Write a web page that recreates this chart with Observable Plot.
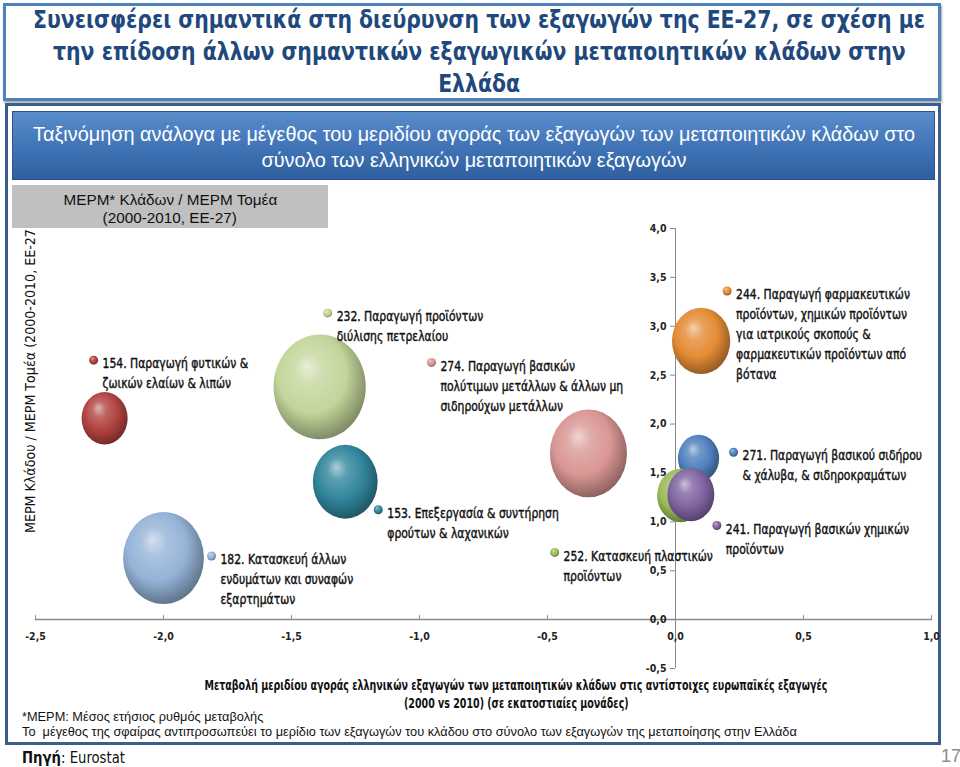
<!DOCTYPE html>
<html>
<head>
<meta charset="utf-8">
<script src="https://cdn.jsdelivr.net/npm/d3@7"></script>
<script src="https://cdn.jsdelivr.net/npm/@observablehq/plot@0.6"></script>
<style>
  html, body { margin: 0; padding: 0; background: #fff; }
  #page { position: relative; width: 960px; height: 767px; overflow: hidden; background: #fff;
          font-family: "DejaVu Sans Condensed", "Liberation Sans", sans-serif; }
  .abs { position: absolute; }
  .ln { display: inline-block; white-space: nowrap; }
  .c { width: 2000px; text-align: center; }
  .c .ln { transform-origin: 50% 50%; }
  .l .ln { transform-origin: 0 50%; }
  #titlebox { left: 3px; top: 3px; width: 932px; height: 92px; border: 3px solid #4f81bd;
              box-shadow: 1px 2px 2px rgba(0,0,0,0.35); }
  #title { left: -521px; top: 4px; color: #1f497d; font-weight: bold; font-size: 25px; line-height: 32px; }
  #frame { left: 5px; top: 103px; width: 930px; height: 636px; border: 3px solid #3a5f8e; }
  #banner { left: 12px; top: 111px; width: 921px; height: 67px;
            background: linear-gradient(#5a8ccb, #3f73b5 55%, #2f609f); border: 1px solid #2a5288; }
  #subtitle { left: -526px; top: 121px; color: #fff;
              font-family: "Liberation Sans", Arial, sans-serif; font-size: 20px; line-height: 26px; }
  #graybox { left: 12px; top: 185px; width: 316px; height: 43px; background: #c0c0c0; }
  #graytext { left: -830px; top: 191px;
              font-family: "Liberation Sans", Arial, sans-serif; font-size: 14.5px; line-height: 18px; color: #111; }
  #ylabel { left: 21px; top: 533px; transform-origin: 0 0; white-space: nowrap; font-size: 14.5px;
            line-height: 18px; color: #111; }
  #xtitle { left: -484px; top: 676px; font-weight: bold; font-size: 14.5px; line-height: 18px; color: #111; }
  #notes { left: 22px; top: 710px; font-family: "Liberation Sans", Arial, sans-serif; font-size: 12.5px;
           line-height: 15px; color: #111; }
  #source { left: 22px; top: 749px; font-size: 15px; line-height: 18px; color: #111; }
  #pagenum { left: 941px; top: 746px; font-family: "Liberation Sans", Arial, sans-serif; font-size: 18px; color: #8c8c8c; }
  #chart { left: 0; top: 180px; }
</style>
</head>
<body>
<div id="page">
  <div id="titlebox" class="abs"></div>
  <div id="title" class="abs c"><span class="ln">Συνεισφέρει σημαντικά στη διεύρυνση των εξαγωγών της ΕΕ-27, σε σχέση με</span><br><span class="ln">την επίδοση άλλων σημαντικών εξαγωγικών μεταποιητικών κλάδων στην</span><br><span class="ln">Ελλάδα</span></div>
  <div id="frame" class="abs"></div>
  <div id="banner" class="abs"></div>
  <div id="subtitle" class="abs c"><span class="ln">Ταξινόμηση ανάλογα με μέγεθος του μεριδίου αγοράς των εξαγωγών των μεταποιητικών κλάδων στο</span><br><span class="ln">σύνολο των ελληνικών μεταποιητικών εξαγωγών</span></div>
  <div id="ylabel" class="abs"><span id="ylabpart">ΜΕΡΜ Κλάδου / ΜΕΡΜ Τομέα (2000-2010, ΕΕ-27</span>)</div>
  <div id="chart" class="abs"></div>
  <div id="graybox" class="abs"></div>
  <div id="graytext" class="abs c"><span class="ln">ΜΕΡΜ* Κλάδων / ΜΕΡΜ Τομέα</span><br><span class="ln">(2000-2010, ΕΕ-27)</span></div>
  <div id="xtitle" class="abs c"><span class="ln">Μεταβολή μεριδίου αγοράς ελληνικών εξαγωγών των μεταποιητικών κλάδων στις αντίστοιχες ευρωπαϊκές εξαγωγές</span><br><span class="ln">(2000 vs 2010) (σε εκατοστιαίες μονάδες)</span></div>
  <div id="notes" class="abs l"><span class="ln">*ΜΕΡΜ: Μέσος ετήσιος ρυθμός μεταβολής</span><br><span class="ln">Το &nbsp;μέγεθος της σφαίρας αντιπροσωπεύει το μερίδιο των εξαγωγών του κλάδου στο σύνολο των εξαγωγών της μεταποίησης στην Ελλάδα</span></div>
  <div id="source" class="abs l"><span class="ln"><b>Πηγή</b>: Eurostat</span></div>
  <div id="pagenum" class="abs">17</div>
</div>
<script>
// ---- data ----
const codes = ["154", "232", "274", "153", "182", "244", "271", "252", "241"];
const names = [
  "154. Παραγωγή φυτικών &\nζωικών ελαίων & λιπών",
  "232. Παραγωγή προϊόντων\nδιύλισης πετρελαίου",
  "274. Παραγωγή βασικών\nπολύτιμων μετάλλων & άλλων μη\nσιδηρούχων μετάλλων",
  "153. Επεξεργασία & συντήρηση\nφρούτων & λαχανικών",
  "182. Κατασκευή άλλων\nενδυμάτων και συναφών\nεξαρτημάτων",
  "244. Παραγωγή φαρμακευτικών\nπροϊόντων, χημικών προϊόντων\nγια ιατρικούς σκοπούς &\nφαρμακευτικών προϊόντων από\nβότανα",
  "271. Παραγωγή βασικού σιδήρου\n& χάλυβα, & σιδηροκραμάτων",
  "252. Κατασκευή πλαστικών\nπροϊόντων",
  "241. Παραγωγή βασικών χημικών\nπροϊόντων"
];
// change in market share (percentage points), x axis
const shareChange = [-2.23, -1.39, -0.34, -1.29, -2.00, 0.10, 0.09, 0.02, 0.06];
// sector growth / manufacturing growth ratio, y axis
const growthRatio = [2.06, 2.38, 1.70, 1.41, 0.63, 2.85, 1.65, 1.27, 1.28];
// share of sector in Greek manufacturing exports (bubble size, estimated)
const exportShare = [5.0, 20.0, 14.0, 9.9, 15.4, 8.0, 4.0, 5.2, 5.2];
const xTicks = [-2.5, -2.0, -1.5, -1.0, -0.5, 0.0, 0.5, 1.0];
const yTicks = [-0.5, 0.0, 0.5, 1.0, 1.5, 2.0, 2.5, 3.0, 3.5, 4.0];

// ---- styling (colors & label placement, px offsets from bubble centre) ----
const baseColors = ["#b0423f", "#c3d69b", "#d99694", "#31859c", "#95b3d7", "#e48b35", "#4f81bd", "#9bbb59", "#8064a2"];
const labelDx = [-11, 8, -157, 33, 48, 26, 35, -126, 26];
const labelDy = [-58, -74, -91, 28, -2, -50, -6, 57, 31];

const rows = codes.map((c, i) => ({
  code: c, name: names[i], x: shareChange[i], y: growthRatio[i], share: exportShare[i],
  color: baseColors[i], dx: labelDx[i], dy: labelDy[i]
}));

// sphere gradients
const ns = "http://www.w3.org/2000/svg";
const gsvg = document.createElementNS(ns, "svg");
gsvg.setAttribute("width", 0); gsvg.setAttribute("height", 0);
gsvg.style.position = "absolute";
const defs = document.createElementNS(ns, "defs");
gsvg.appendChild(defs);
rows.forEach(r => {
  const base = d3.color(r.color);
  const g = document.createElementNS(ns, "radialGradient");
  g.setAttribute("id", "g" + r.code);
  g.setAttribute("cx", "0.45"); g.setAttribute("cy", "0.42"); g.setAttribute("r", "0.62");
  g.setAttribute("fx", "0.36"); g.setAttribute("fy", "0.30");
  const stops = [
    [0, d3.interpolateRgb(base, "#ffffff")(0.6)],
    [0.25, d3.interpolateRgb(base, "#ffffff")(0.2)],
    [0.6, base.formatHex()],
    [0.88, base.darker(0.9).formatHex()],
    [1, base.darker(1.4).formatHex()]
  ];
  stops.forEach(([o, c]) => {
    const s = document.createElementNS(ns, "stop");
    s.setAttribute("offset", o); s.setAttribute("stop-color", c);
    g.appendChild(s);
  });
  defs.appendChild(g);
});
document.getElementById("page").appendChild(gsvg);

const fmt = d => d.toFixed(1).replace(".", ",");
const labelFont = "'DejaVu Sans Condensed', 'Liberation Sans', sans-serif";

const marks = [
  Plot.ruleY([0], {stroke: "#8a8a8a", strokeWidth: 1.5}),
  Plot.ruleX([0], {stroke: "#8a8a8a", strokeWidth: 1}),
  Plot.ruleX(xTicks, {x: d => d, y1: 0, y2: 0, insetTop: -4, insetBottom: -1, stroke: "#8a8a8a"}),
  Plot.ruleY(yTicks, {y: d => d, x1: 0, x2: 0, insetLeft: -5, stroke: "#8a8a8a"}),
  Plot.text(xTicks, {x: d => d, y: 0, text: fmt, dy: 17, fontWeight: "bold", fontSize: 10.5, fill: "#222", fontFamily: labelFont}),
  Plot.text(yTicks, {x: 0, y: d => d, text: fmt, dx: -9, textAnchor: "end", fontWeight: "bold", fontSize: 10.5, fill: "#222", fontFamily: labelFont})
];
rows.forEach(r => {
  marks.push(Plot.dot([r], {x: "x", y: "y", r: "share", fill: `url(#g${r.code})`}));
});
rows.forEach(r => {
  marks.push(Plot.dot([r], {x: "x", y: "y", dx: r.dx, dy: r.dy, r: 4.5, fill: `url(#g${r.code})`}));
  marks.push(Plot.text([r], {x: "x", y: "y", text: "name", dx: r.dx + 9, dy: r.dy - 6,
    textAnchor: "start", lineAnchor: "top", lineHeight: 1.45, fontSize: 13.8, fill: "#111",
    stroke: "#111", strokeWidth: 0.4, fontFamily: labelFont}));
});

const chart = Plot.plot({
  width: 960, height: 520,
  marginLeft: 35, marginRight: 29, marginTop: 48, marginBottom: 32,
  x: {domain: [-2.5, 1.0], axis: null},
  y: {domain: [-0.5, 4.0], axis: null},
  r: {type: "sqrt", domain: [0, 20], range: [0, 49]},
  style: {background: "transparent", overflow: "visible"},
  marks
});
document.getElementById("chart").appendChild(chart);

// ---- the reference's spheres are drawn slightly taller than wide ----
chart.querySelectorAll("circle").forEach(c => {
  const r = +c.getAttribute("r");
  if (r > 8) {
    const cx = +c.getAttribute("cx"), cy = +c.getAttribute("cy");
    c.setAttribute("transform", `translate(${cx},${cy}) scale(0.94,1.07) translate(${-cx},${-cy})`);
  }
});

// ---- condense label texts horizontally to match the reference's narrow font ----
const labelTexts = Array.from(chart.querySelectorAll("text")).filter(t => /^\d{3}\./.test(t.textContent));
const refLabel = labelTexts.find(t => t.textContent.startsWith("244."));
const refSpan = refLabel.querySelector("tspan") || refLabel;
const kLabel = 174 / refSpan.getComputedTextLength();
labelTexts.forEach(t => {
  const tr = t.getAttribute("transform");
  if (tr) t.setAttribute("transform", tr + ` scale(${kLabel},1)`);
  else {
    const x = +t.getAttribute("x") || 0, y = +t.getAttribute("y") || 0;
    t.setAttribute("transform", `translate(${x},${y}) scale(${kLabel},1) translate(${-x},${-y})`);
  }
});

// ---- fit HTML text lines to the widths measured on the reference ----
function fit(id, target, refIdx = 0) {
  const spans = document.querySelectorAll(`#${id} .ln`);
  const k = target / spans[refIdx].offsetWidth;
  spans.forEach(s => s.style.transform = `scaleX(${k})`);
}
fit("title", 892);
fit("subtitle", 882);
fit("graytext", 214);
fit("xtitle", 623);
fit("notes", 775, 1);
fit("source", 103);
const yl = document.getElementById("ylabel");
const ky = 304 / document.getElementById("ylabpart").offsetWidth;
yl.style.transform = `rotate(-90deg) scaleX(${ky})`;
</script>
</body>
</html>
